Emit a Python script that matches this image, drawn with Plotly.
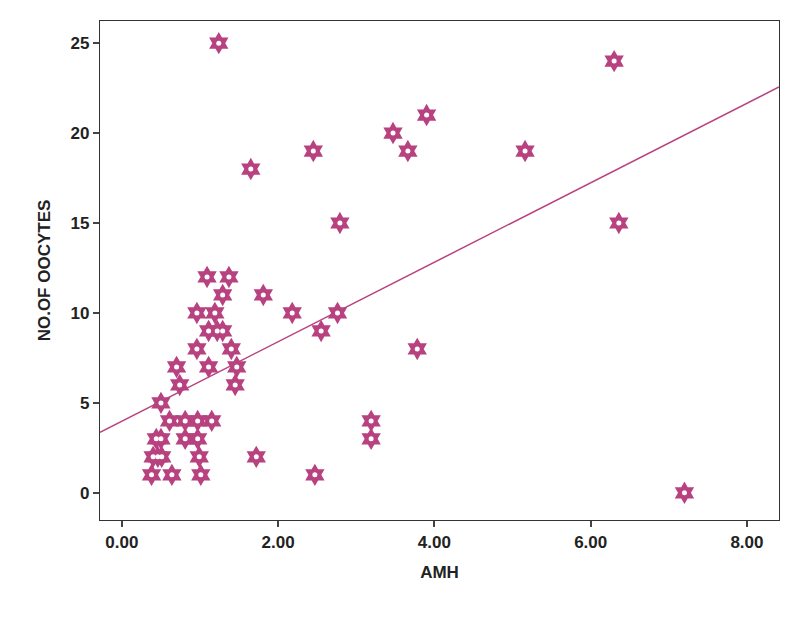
import plotly.graph_objects as go
import numpy as np

amh = [1.24,6.30,3.90,3.47,1.65,2.45,3.66,5.16,2.79,6.36,1.09,1.37,1.29,1.81,0.96,2.18,2.76,1.19,
       1.22,1.11,1.29,2.55,0.96,1.40,3.78,0.70,1.11,1.47,0.74,1.45,0.50,
       0.61,0.81,0.97,1.15,3.19,0.50,0.81,0.97,3.19,0.46,0.51,0.99,1.72,0.38,0.64,1.01,2.47,7.20,0.40,0.44]
oocytes = [25,24,21,20,18,19,19,19,15,15,12,12,11,11,10,10,10,10,
           9,9,9,9,8,8,8,7,7,7,6,6,5,
           4,4,4,4,4,3,3,3,3,2,2,2,2,1,1,1,1,0,2,3]
fit_intercept = 3.98
fit_slope = 2.21
xticks = [0, 2, 4, 6, 8]
xlabels = ["0.00", "2.00", "4.00", "6.00", "8.00"]
yticks = [0, 5, 10, 15, 20, 25]

col = "#B8417F"
fig = go.Figure()
lx = np.array([-0.28, 8.41])
fig.add_trace(go.Scatter(x=lx, y=fit_intercept + fit_slope*lx, mode="lines",
                         line=dict(color=col, width=1.5), hoverinfo="skip"))
fig.add_trace(go.Scatter(x=amh, y=oocytes, mode="markers",
                         marker=dict(symbol="hexagram", size=17, color=col, line=dict(width=0))))
fig.add_trace(go.Scatter(x=amh, y=oocytes, mode="markers",
                         marker=dict(symbol="circle", size=5, color="white", line=dict(width=0))))
fig.update_layout(width=794, height=618, showlegend=False, plot_bgcolor="white", paper_bgcolor="white",
                  margin=dict(l=92, r=23, t=13, b=106),
                  font=dict(family="Liberation Sans", color="#222", size=15))
axfont = dict(family="Liberation Sans", size=17, color="#222")
tf = dict(size=17, family="Liberation Sans", color="#222")
fig.update_xaxes(range=[-0.28, 8.41], tickvals=xticks, ticktext=[f"<b>{t}</b>" for t in xlabels],
                 ticks="outside", ticklen=6, tickwidth=1.5, showgrid=False, zeroline=False, showline=True, mirror=True,
                 linecolor="#333", linewidth=1.2, title=dict(text="<b>AMH</b>", font=axfont), tickfont=tf)
fig.update_yaxes(range=[-1.51, 26.23], tickvals=yticks, ticktext=[f"<b>{t}</b>" for t in yticks],
                 ticks="outside", ticklen=6, tickwidth=1.5, showgrid=False, zeroline=False, showline=True, mirror=True,
                 linecolor="#333", linewidth=1.2, title=dict(text="<b>NO.OF OOCYTES</b>", font=axfont), tickfont=tf)
fig.write_html("out.html")
